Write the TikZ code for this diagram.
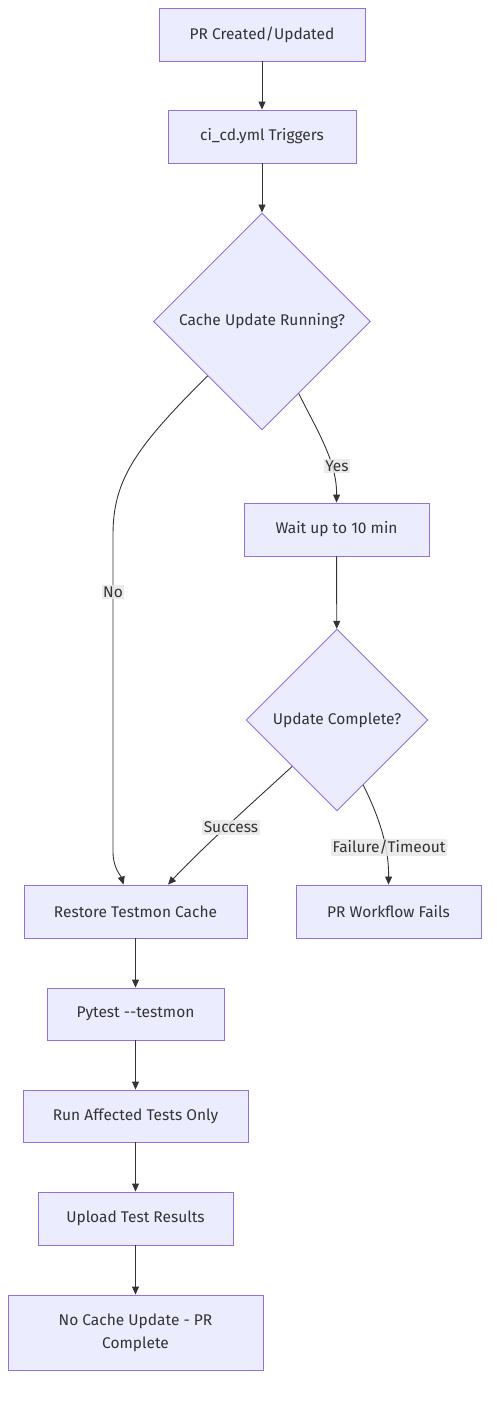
\documentclass[tikz,border=0pt]{standalone}
\usepackage{fontspec}
\setmainfont{Fira Sans}
\usetikzlibrary{shapes.geometric,arrows.meta}
\definecolor{nodefill}{HTML}{ECECFF}
\definecolor{nodeline}{HTML}{9370DB}
\definecolor{txt}{HTML}{333333}
\definecolor{lblbg}{HTML}{E8E8E8}
\tikzset{
  box/.style={draw=nodeline, fill=nodefill, line width=0.9pt, inner sep=0pt, text=txt, font=\fontsize{15.5}{23}\selectfont, align=center},
  dia/.style={draw=nodeline, fill=nodefill, line width=0.9pt, shape=diamond, aspect=1, inner sep=0pt, text=txt, font=\fontsize{15.5}{23}\selectfont},
  edge/.style={draw=txt, line width=0.9pt, -{Triangle[length=8pt,width=7pt]}},
  lbl/.style={fill=lblbg, fill opacity=0.85, text opacity=1, text=txt, inner sep=1.5pt, font=\fontsize{15.5}{18}\selectfont}
}
\begin{document}
\begin{tikzpicture}[x=1pt,y=-1pt]
\useasboundingbox (0,0) rectangle (497,1401);
\node[box, minimum width=206pt, minimum height=53pt] (pr) at (262,34.5) {PR Created/Updated};
\node[box, minimum width=188pt, minimum height=53pt] (ci) at (262,136.5) {ci\_cd.yml Triggers};
\node[dia, minimum width=217pt, minimum height=217pt] (cur) at (262,321.5) {Cache Update Running?};
\node[box, minimum width=185pt, minimum height=53pt] (wait) at (336.5,529.5) {Wait up to 10 min};
\node[dia, minimum width=182pt, minimum height=182pt] (upd) at (337,720) {Update Complete?};
\node[box, minimum width=223pt, minimum height=53pt] (restore) at (135.5,911.5) {Restore Testmon Cache};
\node[box, minimum width=185pt, minimum height=53pt] (fails) at (388.5,911.5) {PR Workflow Fails};
\node[box, minimum width=177pt, minimum height=52pt] (pytest) at (135.5,1014) {Pytest -{}-testmon};
\node[box, minimum width=225pt, minimum height=52pt] (run) at (135.5,1116) {Run Affected Tests Only};
\node[box, minimum width=195pt, minimum height=53pt] (upload) at (135.5,1218.5) {Upload Test Results};
\node[box, minimum width=255pt, minimum height=75pt] (done) at (135.5,1332.5) {No Cache Update - PR\\Complete};

\draw[edge] (pr) -- (ci);
\draw[edge] (ci) -- (cur);
\draw[edge] (cur.-135) .. controls (135,448) and (113,480) .. (113,535) -- (113,852) .. controls (113,868) and (121,876) .. ([xshift=100pt]restore.north west);
\draw[edge] (cur.-63) .. controls (318,432) and (337,462) .. (wait.north);
\draw[edge] (wait) -- (upd);
\draw[edge] (upd.-134) .. controls (250,805) and (200,850) .. ([xshift=32.5pt]restore.north);
\draw[edge] (upd.-68.5) .. controls (378,815) and (389,845) .. (fails.north);
\draw[edge] (restore) -- (pytest);
\draw[edge] (pytest) -- (run);
\draw[edge] (run) -- (upload);
\draw[edge] (upload) -- (done);

\node[lbl] (lno) at (113,592) {No};
\node[lbl] (lyes) at (337,466) {Yes};
\node[lbl] (lsucc) at (231,827.5) {Success};
\node[lbl] (lfail) at (389,847.5) {Failure/Timeout};
\end{tikzpicture}
\end{document}
